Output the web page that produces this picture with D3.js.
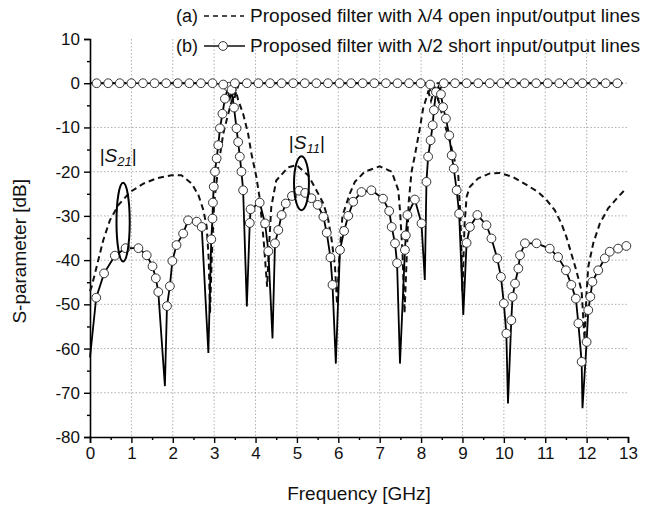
<!DOCTYPE html>
<html><head><meta charset="utf-8">
<script src="https://cdn.jsdelivr.net/npm/d3@7"></script>
<style>
body{margin:0;background:#fff;}
text{font-family:"Liberation Sans",Arial,Helvetica,sans-serif;fill:#111;}
</style></head>
<body><svg id="c" width="652" height="513"></svg>
<script>
// ---------- data ----------
const xTicks = [0,1,2,3,4,5,6,7,8,9,10,11,12,13];
const yTicks = [10,0,-10,-20,-30,-40,-50,-60,-70,-80];
const legendLabels = ["Proposed filter with \u03bb/4 open input/output lines","Proposed filter with \u03bb/2 short input/output lines"];
const legendTags = ["(a)","(b)"];

// (a) dashed: trace near 0 dB
const aTop = [[0,0],[3.35,0],[3.47,-4],[3.6,0],[8.12,0],[8.24,-4],[8.36,0],[12.95,0]];
// (a) dashed: lower trace
const aLow = [[0,-47],[0.04,-46],[0.16,-41.5],[0.32,-35.5],[0.48,-31],[0.68,-27.6],[0.97,-24.6],[1.29,-22.7],[1.61,-21.5],[1.97,-20.8],[2.21,-20.8],[2.46,-22.7],[2.62,-25.3],[2.74,-28.7],[2.82,-32.5],[2.87,-40],[2.9,-52],[2.94,-40],[3.0,-27],[3.1,-18.9],[3.22,-11.4],[3.3,-8.4],[3.38,-5.5],[3.46,-3],[3.52,-1.5],[3.58,-3.8],[3.7,-6.9],[3.82,-11.4],[3.9,-15.9],[4.02,-21.2],[4.1,-26],[4.2,-36],[4.28,-46],[4.32,-38],[4.38,-28],[4.5,-22],[4.79,-19],[4.99,-18.5],[5.27,-20.8],[5.47,-24.2],[5.64,-27.2],[5.76,-31],[5.84,-35.5],[5.92,-41.5],[5.97,-50],[6.02,-40],[6.1,-30],[6.28,-24.9],[6.4,-22.3],[6.64,-20],[7.0,-18.8],[7.29,-20],[7.45,-24.2],[7.49,-28.7],[7.55,-38],[7.6,-52],[7.65,-40],[7.7,-27],[7.77,-20],[7.85,-16.3],[7.97,-10.2],[8.05,-5.7],[8.17,-2],[8.27,-1],[8.37,-2],[8.53,-8],[8.7,-13.3],[8.82,-17.8],[8.9,-21],[8.95,-30],[9.0,-47],[9.05,-32],[9.1,-25.7],[9.18,-23.4],[9.38,-21.5],[9.66,-20.4],[9.9,-20.3],[10.22,-21.2],[10.55,-23],[10.83,-24.6],[11.03,-26.4],[11.23,-28.7],[11.39,-31.7],[11.51,-34.7],[11.63,-38.5],[11.75,-42.3],[11.88,-47],[11.95,-58],[12.0,-47],[12.04,-41.5],[12.16,-36.2],[12.32,-31.7],[12.52,-28.3],[12.76,-25.7],[12.96,-23.8]];

// (b) solid with circles: trace near 0 dB  [f, dB, marker]
const bTop = [[0,0,0],[0.16,0,1],[0.44,0,1],[0.72,0,1],[1.0,0,1],[1.28,0,1],[1.56,0,1],[1.84,0,1],[2.12,0,1],[2.4,0,1],[2.68,0,1],[2.96,0,1],[3.22,-0.3,1],[3.3,-0.8,0],[3.38,-3.5,0],[3.45,-0.8,0],[3.5,0,1],[3.79,0,1],[4.07,0,1],[4.35,0,1],[4.63,0,1],[4.91,0,1],[5.19,0,1],[5.47,0,1],[5.75,0,1],[6.03,0,1],[6.31,0,1],[6.59,0,1],[6.87,0,1],[7.15,0,1],[7.43,0,1],[7.71,0,1],[7.99,0,1],[8.22,-0.3,1],[8.32,-1,0],[8.4,-3.5,0],[8.48,-1,0],[8.55,0,1],[8.82,0,1],[9.1,0,1],[9.38,0,1],[9.66,0,1],[9.94,0,1],[10.22,0,1],[10.5,0,1],[10.78,0,1],[11.06,0,1],[11.34,0,1],[11.62,0,1],[11.9,0,1],[12.18,0,1],[12.46,0,1],[12.74,0,1],[12.85,0,0]];
// (b) solid with circles: lower trace  [f, dB, marker]
const bLow = [[0,-62,0],[0.15,-48.5,1],[0.34,-43,1],[0.6,-39,1],[0.86,-37.3,1],[1.17,-37.3,1],[1.37,-38.9,1],[1.51,-41.4,1],[1.59,-44.1,1],[1.65,-47.2,1],[1.81,-68.5,0],[1.86,-50.4,1],[1.93,-45.9,1],[1.99,-40.2,1],[2.09,-36.6,1],[2.25,-34,1],[2.37,-31,1],[2.58,-31.3,1],[2.7,-32.5,1],[2.86,-61,0],[2.93,-35.3,1],[2.96,-30.6,1],[2.97,-27,1],[2.99,-23.4,1],[3.02,-20,1],[3.06,-17,1],[3.1,-14,1],[3.14,-10.2,1],[3.2,-6.9,1],[3.26,-3.5,1],[3.34,-0.8,1],[3.42,-1.5,1],[3.48,-5.5,1],[3.54,-10.2,1],[3.58,-13.3,1],[3.62,-16.6,1],[3.66,-20,1],[3.7,-24.2,1],[3.79,-50.5,0],[3.86,-31.6,1],[3.88,-28.5,1],[4.1,-27,1],[4.23,-31.7,1],[4.31,-38,1],[4.41,-57.7,0],[4.47,-36.2,1],[4.55,-33.2,1],[4.63,-29.8,1],[4.73,-27.2,1],[4.88,-25.5,1],[5.05,-24.3,1],[5.2,-24.8,1],[5.35,-26,1],[5.5,-27.5,1],[5.64,-30.2,1],[5.72,-33.8,1],[5.81,-39.4,1],[5.86,-45.6,1],[5.94,-63.4,0],[6.04,-37.7,1],[6.14,-33.4,1],[6.24,-30,1],[6.36,-26.8,1],[6.56,-24.6,1],[6.8,-24.2,1],[7.08,-26.1,1],[7.23,-28.9,1],[7.29,-32.5,1],[7.37,-36.2,1],[7.42,-40.7,1],[7.49,-63.4,0],[7.61,-37.7,1],[7.63,-34.4,1],[7.67,-29.8,1],[7.85,-26.3,1],[8.01,-31.7,1],[8.09,-44.5,0],[8.13,-22.3,1],[8.17,-16.6,1],[8.23,-12.9,1],[8.28,-9.5,1],[8.31,-6.1,1],[8.36,-2,1],[8.42,-0.8,0],[8.48,-2.5,1],[8.53,-5.4,1],[8.6,-8,1],[8.68,-11.8,1],[8.74,-16.3,1],[8.79,-19.3,1],[8.86,-24.2,1],[8.92,-29.5,1],[9.02,-52.4,0],[9.1,-36.1,1],[9.18,-32.5,1],[9.36,-29.8,1],[9.58,-32.1,1],[9.7,-35.1,1],[9.84,-39.6,1],[9.93,-43.8,1],[10.0,-49.8,1],[10.06,-56.6,1],[10.1,-72.4,0],[10.18,-53.6,1],[10.21,-48.3,1],[10.27,-45.3,1],[10.35,-41.9,1],[10.39,-38.9,1],[10.51,-36.2,1],[10.79,-36.2,1],[11.11,-37.4,1],[11.31,-39.3,1],[11.5,-42.3,1],[11.63,-45.6,1],[11.74,-48.7,1],[11.8,-54.3,1],[11.88,-63,1],[11.9,-73.5,0],[12.0,-58.5,1],[12.04,-51.3,1],[12.09,-48.3,1],[12.14,-44.9,1],[12.28,-42.3,1],[12.44,-39.6,1],[12.56,-38.1,1],[12.76,-37.4,1],[12.96,-36.8,1]];

// annotation ellipses: [f, dB, rf (GHz), rdB]
const annS21 = [0.8,-31.4,0.16,8.9];
const annS11 = [5.11,-22.6,0.18,6.1];

// ---------- drawing ----------
const svg = d3.select("#c");
const x = d3.scaleLinear().domain([0,13]).range([90,628]);
const y = d3.scaleLinear().domain([-80,10]).range([437,39]);
const fmt = d => String(d);

// grid
const grid = svg.append("g").attr("stroke","#9a9a9a").attr("stroke-width",0.8).attr("stroke-dasharray","1.5,2");
grid.selectAll(".gx").data(xTicks.filter(d=>d>0&&d<13)).join("line")
  .attr("x1",d=>x(d)).attr("x2",d=>x(d)).attr("y1",y(10)).attr("y2",y(-80));
grid.selectAll(".gy").data(yTicks.filter(d=>d<10&&d>-80)).join("line")
  .attr("y1",d=>y(d)).attr("y2",d=>y(d)).attr("x1",x(0)).attr("x2",x(13));

// axes
const fs = "17px";
const xAxis = d3.axisBottom(x).tickValues(xTicks).tickSize(6).tickPadding(4).tickFormat(fmt);
svg.append("g").attr("transform",`translate(0,${y(-80)})`).call(xAxis);
const xMinor = d3.axisBottom(x).tickValues(d3.range(0.5,13,1)).tickSize(3).tickFormat("");
svg.append("g").attr("transform",`translate(0,${y(-80)})`).call(xMinor).select(".domain").remove();
const yAxis = d3.axisLeft(y).tickValues(yTicks).tickSize(6).tickPadding(4).tickFormat(fmt);
svg.append("g").attr("transform",`translate(${x(0)},0)`).call(yAxis);
const yMinor = d3.axisLeft(y).tickValues(d3.range(-75,10,10)).tickSize(3).tickFormat("");
svg.append("g").attr("transform",`translate(${x(0)},0)`).call(yMinor).select(".domain").remove();
svg.selectAll(".domain").attr("stroke","#000").attr("stroke-width",1.6);
svg.selectAll(".tick line").attr("stroke","#000").attr("stroke-width",1.4);
svg.selectAll(".tick text").style("font-size",fs).style("font-family","'Liberation Sans',Arial,sans-serif").attr("fill","#111");

// axis titles
svg.append("text").attr("x",x(6.5)).attr("y",500).attr("text-anchor","middle").style("font-size","19px").text("Frequency [GHz]");
svg.append("text").attr("transform",`translate(26,${y(-38)}) rotate(-90)`).attr("text-anchor","middle").style("font-size","19px").text("S-parameter [dB]");

// lines
const line = d3.line().x(d=>x(d[0])).y(d=>y(d[1]));
const plot = svg.append("g");
plot.append("path").datum(aLow).attr("d",line).attr("fill","none").attr("stroke","#111").attr("stroke-width",2).attr("stroke-dasharray","6,4");
plot.append("path").datum(aTop).attr("d",line).attr("fill","none").attr("stroke","#111").attr("stroke-width",2).attr("stroke-dasharray","6,4");
plot.append("path").datum(bLow).attr("d",line).attr("fill","none").attr("stroke","#000").attr("stroke-width",1.8);
plot.append("path").datum(bTop).attr("d",line).attr("fill","none").attr("stroke","#000").attr("stroke-width",1.6);
plot.selectAll(".mk").data(bLow.concat(bTop).filter(d=>d[2])).join("circle")
  .attr("cx",d=>x(d[0])).attr("cy",d=>y(d[1])).attr("r",4.4)
  .attr("fill","#fff").attr("stroke","#333").attr("stroke-width",1);

// annotations
function ell(a){
  svg.append("ellipse").attr("cx",x(a[0])).attr("cy",y(a[1]))
    .attr("rx",x(a[2])-x(0)).attr("ry",y(-a[3])-y(0))
    .attr("fill","none").attr("stroke","#000").attr("stroke-width",2);
}
ell(annS21); ell(annS11);
function lab(px,py,sub){
  const t = svg.append("text").attr("x",px).attr("y",py).attr("text-anchor","middle").style("font-size","19px");
  t.append("tspan").text("|");
  t.append("tspan").style("font-style","italic").text("S");
  t.append("tspan").attr("dy",4).style("font-size","13px").style("font-style","italic").text(sub);
  t.append("tspan").attr("dy",-4).text("|");
}
lab(x(0.68),y(-17.8),"21");
lab(x(5.24),y(-14.8),"11");

// legend
const lg = svg.append("g");
legendTags.forEach((t,i)=>{
  const by = [22,52][i];
  lg.append("text").attr("x",176).attr("y",by).style("font-size","18px").text(t);
  lg.append("text").attr("x",250).attr("y",by).style("font-size","18px")
    .attr("textLength",390).attr("lengthAdjust","spacingAndGlyphs").text(legendLabels[i]);
});
lg.append("line").attr("x1",204).attr("x2",244).attr("y1",16).attr("y2",16).attr("stroke","#111").attr("stroke-width",1.6).attr("stroke-dasharray","5,4");
lg.append("line").attr("x1",204).attr("x2",245).attr("y1",46).attr("y2",46).attr("stroke","#111").attr("stroke-width",1.6);
lg.append("circle").attr("cx",223).attr("cy",46).attr("r",4.4).attr("fill","#fff").attr("stroke","#333");
</script></body></html>
